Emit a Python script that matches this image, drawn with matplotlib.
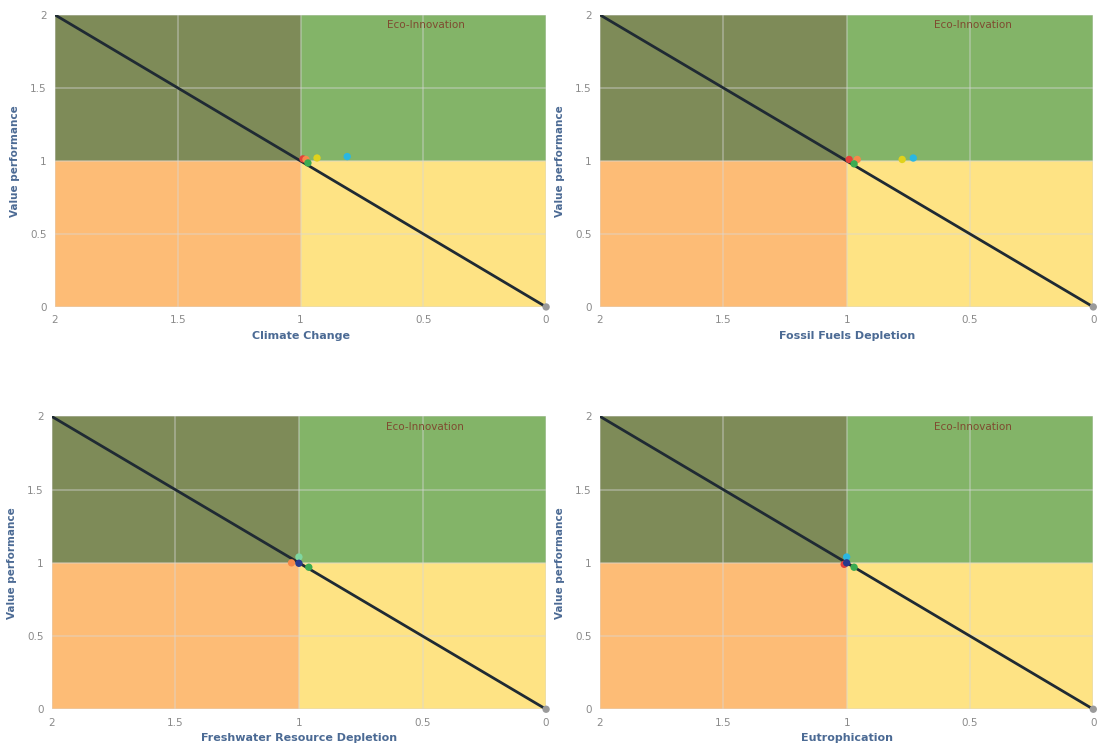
import numpy as np
import matplotlib.pyplot as plt
from matplotlib.patches import Rectangle

# panel titles (x axis labels)
categories = ["Climate Change", "Fossil Fuels Depletion",
              "Freshwater Resource Depletion", "Eutrophication"]

# points per panel: (environmental ratio, value performance, colour)
point_x = [
    [0.99, 0.978, 0.97, 0.933, 0.81, 0.0],
    [0.99, 0.957, 0.97, 0.775, 0.73, 0.0],
    [1.03, 1.0, 0.96, 1.0, 0.0],
    [1.01, 0.97, 1.0, 1.0, 0.0],
]
point_y = [
    [1.014, 1.01, 0.986, 1.02, 1.03, 0.0],
    [1.01, 1.01, 0.98, 1.01, 1.02, 0.0],
    [1.0, 1.04, 0.97, 0.997, 0.0],
    [0.99, 0.97, 1.04, 1.0, 0.0],
]
point_c = [
    ["#e2413a", "#f58a4b", "#3bab52", "#e0d21c", "#2ab7e2", "#9a9a9a"],
    ["#e2413a", "#f58a4b", "#3bab52", "#e0d21c", "#2ab7e2", "#9a9a9a"],
    ["#f58a4b", "#7fd6a0", "#3bab52", "#283a8c", "#9a9a9a"],
    ["#e2413a", "#3bab52", "#2ab7e2", "#283a8c", "#9a9a9a"],
]

diag = [0, 2]
ticks = [0, 0.5, 1, 1.5, 2]
tick_labels = ["0", "0.5", "1", "1.5", "2"]

OLIVE = "#7e8b58"
GREEN = "#83b468"
ORANGE = "#fdbc76"
YELLOW = "#fee384"

fig = plt.figure(figsize=(11.01, 7.45), dpi=100)

positions = [
    [0.050, 0.588, 0.446, 0.392],
    [0.545, 0.588, 0.448, 0.392],
    [0.047, 0.048, 0.449, 0.393],
    [0.545, 0.048, 0.448, 0.393],
]

for i, pos in enumerate(positions):
    ax = fig.add_axes(pos)
    # quadrants
    ax.add_patch(Rectangle((1, 1), 1, 1, color=OLIVE, zorder=0))
    ax.add_patch(Rectangle((0, 1), 1, 1, color=GREEN, zorder=0))
    ax.add_patch(Rectangle((1, 0), 1, 1, color=ORANGE, zorder=0))
    ax.add_patch(Rectangle((0, 0), 1, 1, color=YELLOW, zorder=0))

    ax.set_xlim(2, 0)
    ax.set_ylim(0, 2)
    ax.set_xticks(ticks)
    ax.set_xticklabels(tick_labels)
    ax.set_yticks(ticks)
    ax.set_yticklabels(tick_labels)
    ax.tick_params(length=0, labelsize=7.5, labelcolor="#8a8a8a", pad=6)
    ax.grid(True, color="#d8d8d8", alpha=0.45, linewidth=1.2, zorder=1)
    ax.set_axisbelow(False)
    for s in ax.spines.values():
        s.set_visible(False)

    ax.plot(diag, diag, color="#1f2a33", linewidth=2, zorder=3)
    ax.scatter(point_x[i], point_y[i], c=point_c[i], s=28, zorder=4,
               linewidths=0, clip_on=False)

    ax.text(0.49, 1.93, "Eco-Innovation", color="#7f4a30", fontsize=7.5,
            ha="center", va="center", zorder=5)

    ax.set_xlabel(categories[i], color="#4b6a94", fontsize=8,
                  fontweight="bold", labelpad=4)
    ax.set_ylabel("Value performance", color="#4b6a94", fontsize=7.5,
                  fontweight="bold", labelpad=7)

fig.savefig("out.png", dpi=100)
